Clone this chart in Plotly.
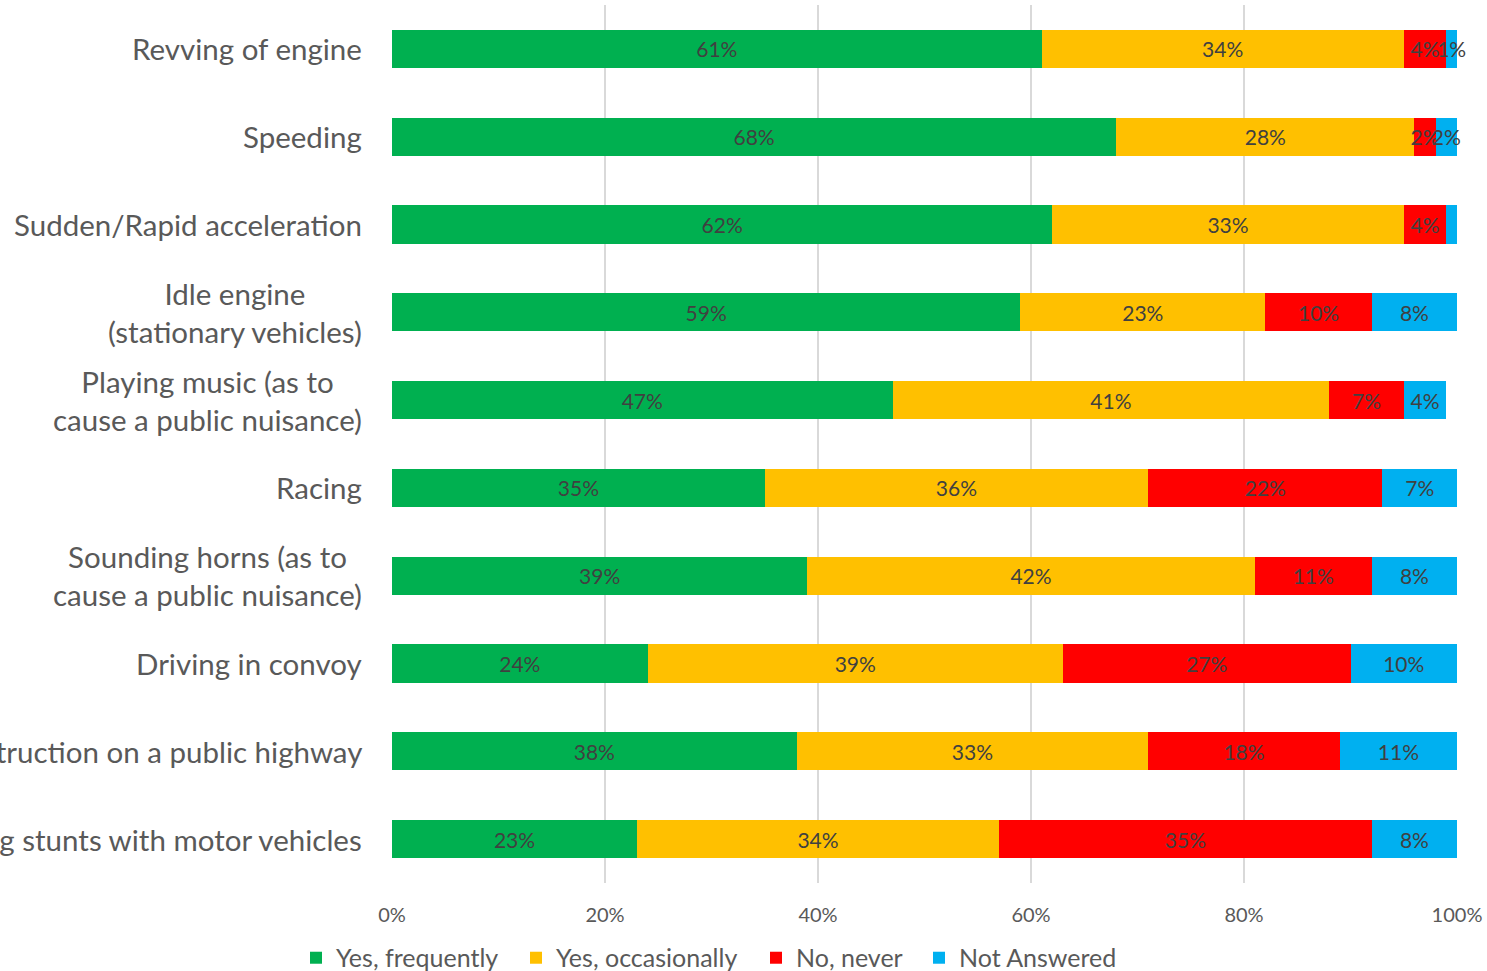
import plotly.graph_objects as go

# Survey responses: how often each behaviour is experienced (percent of respondents)
categories = [
    "Revving of engine",
    "Speeding",
    "Sudden/Rapid acceleration",
    "Idle engine<br>(stationary vehicles)",
    "Playing music (as to<br>cause a public nuisance)",
    "Racing",
    "Sounding horns (as to<br>cause a public nuisance)",
    "Driving in convoy",
    "Causing an obstruction on a public highway",
    "Performing stunts with motor vehicles",
]

yes_frequently = [61, 68, 62, 59, 47, 35, 39, 24, 38, 23]
yes_occasionally = [34, 28, 33, 23, 41, 36, 42, 39, 33, 34]
no_never = [4, 2, 4, 10, 7, 22, 11, 27, 18, 35]
not_answered = [1, 2, 1, 8, 4, 7, 8, 10, 11, 8]
# the one segment that carries no data label
unlabelled = {("Not Answered", 2)}

series = [
    ("Yes, frequently", yes_frequently, "#00B050"),
    ("Yes, occasionally", yes_occasionally, "#FFC000"),
    ("No, never", no_never, "#FF0000"),
    ("Not Answered", not_answered, "#00B0F0"),
]

x_ticks = [0, 20, 40, 60, 80, 100]
x_tick_labels = ["0%", "20%", "40%", "60%", "80%", "100%"]

FONT = "Lato, 'Open Sans', sans-serif"
TEXT_GREY = "#595959"

PLOT_LEFT, PLOT_RIGHT = 392, 1457
# left edge (px) of each legend entry along the bottom row
legend_px = [296, 516, 756, 919]
legend_ids = ["legend", "legend2", "legend3", "legend4"]

fig = go.Figure()
for (name, vals, color), lid in zip(series, legend_ids):
    texts = [
        "" if (name, i) in unlabelled else f"{v}%"
        for i, v in enumerate(vals)
    ]
    fig.add_trace(go.Bar(
        y=categories,
        x=vals,
        name=name,
        orientation="h",
        legend=lid,
        showlegend=True,
        marker=dict(color=color, line=dict(width=0)),
        text=texts,
        textposition="inside",
        insidetextanchor="middle",
        textangle=0,
        constraintext="none",
        textfont=dict(family=FONT, size=21, color="#404040"),
        hoverinfo="skip",
        cliponaxis=False,
    ))

# category labels, each line centred within its block and right-aligned to the axis
for cat in categories:
    fig.add_annotation(
        x=0, xref="paper", xanchor="right", xshift=-28,
        y=cat, yref="y", yanchor="middle",
        text=cat, showarrow=False, align="center",
        font=dict(family=FONT, size=29.5, color=TEXT_GREY),
    )

legend_style = dict(
    orientation="h",
    xanchor="left",
    y=-0.0854, yanchor="middle",
    font=dict(family=FONT, size=25, color=TEXT_GREY),
    itemwidth=30,
    bgcolor="rgba(0,0,0,0)",
)
legends = {
    lid: dict(legend_style, x=(px - PLOT_LEFT) / (PLOT_RIGHT - PLOT_LEFT))
    for lid, px in zip(legend_ids, legend_px)
}

fig.update_layout(
    showlegend=True,
    barmode="stack",
    bargap=0.565,
    width=1487,
    height=971,
    margin=dict(l=PLOT_LEFT, r=1487 - PLOT_RIGHT, t=5, b=88, autoexpand=False),
    paper_bgcolor="white",
    plot_bgcolor="white",
    font=dict(family=FONT, color=TEXT_GREY),
    xaxis=dict(
        range=[0, 100],
        tickvals=x_ticks,
        ticktext=x_tick_labels,
        showgrid=True,
        gridcolor="#D9D9D9",
        gridwidth=2,
        zeroline=False,
        showline=False,
        ticks="",
        ticklabelstandoff=18,
        tickfont=dict(family=FONT, size=20, color=TEXT_GREY),
        automargin=False,
        fixedrange=True,
    ),
    yaxis=dict(
        autorange="reversed",
        showticklabels=False,
        showgrid=False,
        zeroline=False,
        showline=False,
        ticks="",
        automargin=False,
        fixedrange=True,
    ),
    **legends,
)

fig.write_html("out.html")
